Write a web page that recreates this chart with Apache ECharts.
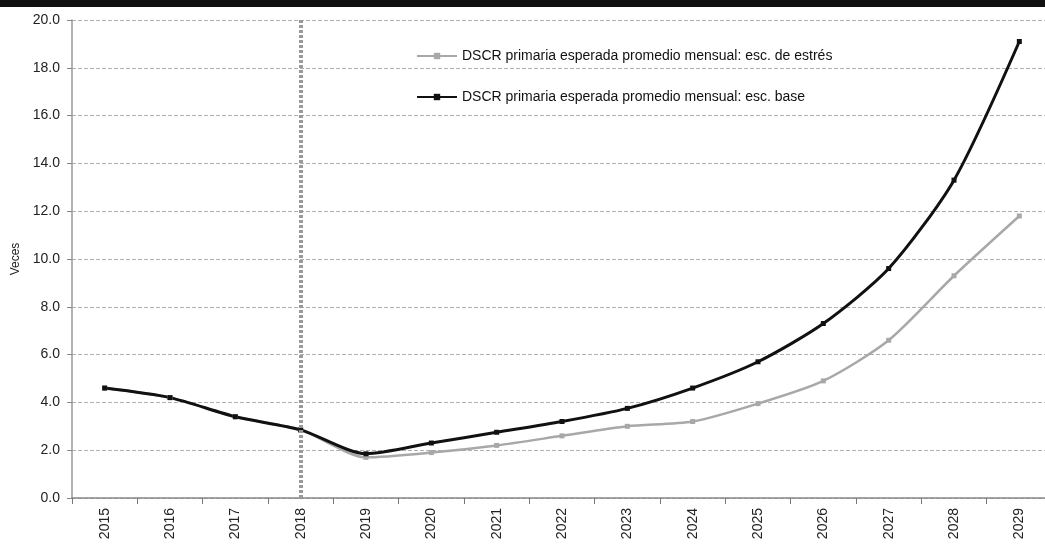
<!DOCTYPE html>
<html>
<head>
<meta charset="utf-8">
<script src="https://cdn.jsdelivr.net/npm/echarts@6/dist/echarts.min.js"></script>
<style>
  html, body { margin: 0; padding: 0; background: #fff; overflow: hidden; }
  #chart { width: 1045px; height: 549px; }
</style>
</head>
<body>
<div id="chart"></div>
<script>
var years = ['2015', '2016', '2017', '2018', '2019', '2020', '2021', '2022',
  '2023', '2024', '2025', '2026', '2027', '2028', '2029'];
var escEstres = [4.6, 4.2, 3.4, 2.85, 1.7, 1.9, 2.2, 2.6, 3.0, 3.2, 3.95, 4.9, 6.6, 9.3, 11.8];
var escBase = [4.6, 4.2, 3.4, 2.85, 1.85, 2.3, 2.75, 3.2, 3.75, 4.6, 5.7, 7.3, 9.6, 13.3, 19.1];
var nameEstres = 'DSCR primaria esperada promedio mensual: esc. de estrés';
var nameBase = 'DSCR primaria esperada promedio mensual: esc. base';
var lineaCorte = '2018';

var chart = echarts.init(document.getElementById('chart'));
var font = "'Liberation Sans Narrow', 'Liberation Sans', Arial, sans-serif";

var option = {
  animation: false,
  backgroundColor: '#fff',
  textStyle: { fontFamily: font },
  graphic: [
    { type: 'rect', left: 0, top: 0, shape: { width: 1045, height: 7 }, style: { fill: '#111' } }
  ],
  // the plot runs past the right edge of the picture, as in the scan
  grid: { left: 72, right: -7, top: 20, bottom: 51, outerBoundsMode: 'none' },
  legend: {
    orient: 'vertical',
    left: 411,
    top: 44,
    itemGap: 27,
    itemWidth: 40,
    itemHeight: 8,
    textStyle: { fontSize: 14, color: '#111', fontFamily: font },
    data: [nameEstres, nameBase]
  },
  xAxis: {
    type: 'category',
    data: years,
    boundaryGap: true,
    axisLine: { lineStyle: { color: '#888', width: 1.5 } },
    axisTick: { show: true, length: 6, lineStyle: { color: '#777' } },
    axisLabel: { rotate: 90, color: '#222', fontSize: 14, margin: 10, fontFamily: font },
    splitLine: { show: false }
  },
  yAxis: {
    type: 'value',
    min: 0,
    max: 20,
    interval: 2,
    name: 'Veces',
    nameLocation: 'middle',
    nameGap: 50,
    nameRotate: 90,
    nameTextStyle: { color: '#222', fontSize: 12, fontFamily: font },
    axisLine: { show: true, lineStyle: { color: '#999', width: 1.5 } },
    axisTick: { show: true, length: 5, lineStyle: { color: '#888' } },
    axisLabel: {
      color: '#222', fontSize: 14, margin: 12, fontFamily: font,
      formatter: function (v) { return v.toFixed(1); }
    },
    splitLine: { show: true, lineStyle: { color: '#b0b0b0', type: 'dashed', width: 1 } }
  },
  series: [
    {
      name: nameEstres,
      type: 'line',
      data: escEstres,
      smooth: 0.25,
      symbol: 'rect',
      symbolSize: 5,
      itemStyle: { color: '#a8a8a8' },
      lineStyle: { color: '#a8a8a8', width: 2.5 },
      markLine: {
        silent: true,
        symbol: 'none',
        label: { show: false },
        lineStyle: { color: '#999', type: [3, 2], width: 4 },
        data: [{ xAxis: lineaCorte }]
      }
    },
    {
      name: nameBase,
      type: 'line',
      data: escBase,
      smooth: 0.25,
      symbol: 'rect',
      symbolSize: 5,
      itemStyle: { color: '#111' },
      lineStyle: { color: '#111', width: 3 }
    }
  ]
};
chart.setOption(option);
</script>
</body>
</html>
